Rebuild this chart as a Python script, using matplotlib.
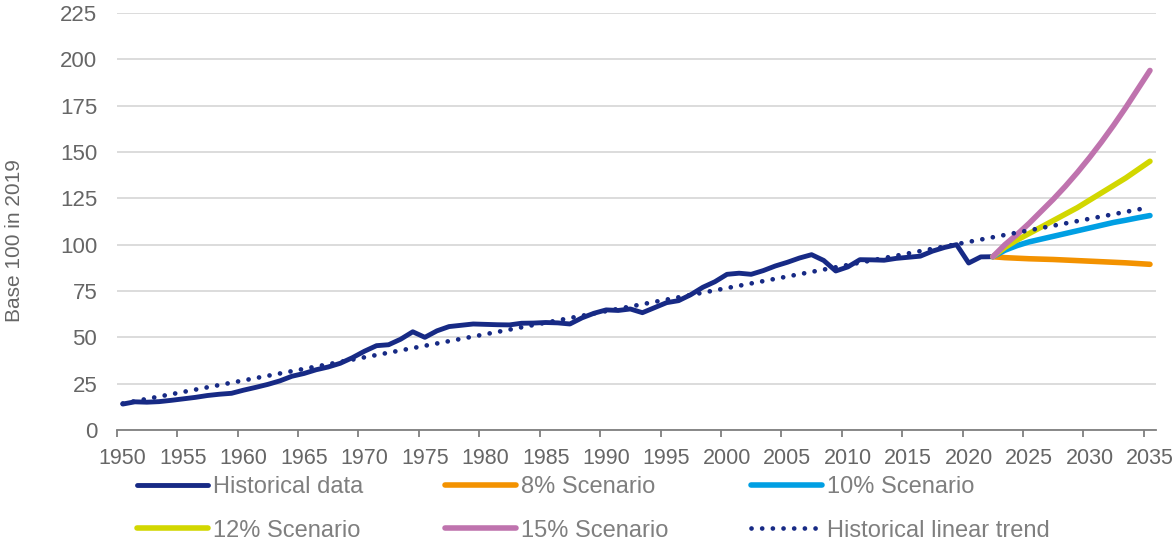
import numpy as np
import matplotlib
matplotlib.use("Agg")
import matplotlib.pyplot as plt
from matplotlib.ticker import FixedLocator, NullFormatter

plt.rcParams['font.family'] = ['Liberation Sans', 'DejaVu Sans']

# historical index, base 100 in 2019
hist_years = list(range(1950, 2023))
hist_values = [
    14.0, 15.2, 15.0, 15.3, 16.0, 16.8, 17.6, 18.6, 19.3, 19.8,   # 1950s
    21.5, 23.0, 24.6, 26.5, 29.0, 30.5, 32.5, 34.0, 36.0, 39.0,   # 1960s
    42.5, 45.5, 46.0, 49.0, 53.0, 50.0, 53.5, 55.8, 56.5, 57.2,   # 1970s
    57.0, 56.8, 56.7, 57.6, 57.7, 58.0, 57.8, 57.2, 60.5, 63.0,   # 1980s
    64.8, 64.5, 65.3, 63.3, 66.0, 68.7, 69.8, 73.0, 77.0, 80.0,   # 1990s
    84.0, 84.6, 84.0, 86.0, 88.5, 90.5, 92.8, 94.6, 91.5, 85.8,   # 2000s
    88.0, 91.9, 91.8, 91.6, 92.6, 93.2, 93.8, 96.5, 98.5, 100.0,  # 2010s
    90.1, 93.4, 93.5,                                              # 2020-2022
]

scen_years = list(range(2022, 2036))
scen_8 = [93.5, 93.0, 92.7, 92.4, 92.2, 92.0, 91.7, 91.4, 91.1, 90.8, 90.5, 90.2, 89.8, 89.4]
scen_10 = [93.5, 97.0, 99.5, 101.5, 103.0, 104.5, 106.0, 107.5, 109.0, 110.5, 112.0, 113.2, 114.5, 115.7]
scen_12 = [93.5, 98.5, 102.5, 106.0, 109.5, 113.0, 116.5, 120.0, 124.0, 128.0, 132.0, 136.0, 140.5, 145.0]
scen_15 = [93.5, 100.0, 105.5, 111.5, 118.0, 124.5, 131.5, 139.0, 147.0, 155.5, 164.5, 174.0, 184.0, 194.0]

# linear trend, end points
trend_years = [1950, 2035]
trend_values = [14.3, 120.2]

tick_years = list(range(1950, 2036, 5))
y_ticks = list(range(0, 226, 25))

c_hist = "#172a85"
c_8 = "#f39200"
c_10 = "#009fe3"
c_12 = "#d2d700"
c_15 = "#bf73ae"
grey_txt = "#666666"

fig = plt.figure(figsize=(11.76, 5.44), dpi=100)
ax = fig.add_axes([116.7 / 1176, 1 - 430 / 544, (1156 - 116.7) / 1176, (430 - 13) / 544])

l_hist, = ax.plot(hist_years, hist_values, color=c_hist, lw=3.5, label="Historical data",
                  solid_capstyle="round", solid_joinstyle="round", zorder=3)
l_8, = ax.plot(scen_years, scen_8, color=c_8, lw=4.0, label="8% Scenario", solid_capstyle="round", zorder=3)
l_10, = ax.plot(scen_years, scen_10, color=c_10, lw=4.0, label="10% Scenario", solid_capstyle="round", zorder=3)
l_12, = ax.plot(scen_years, scen_12, color=c_12, lw=4.0, label="12% Scenario", solid_capstyle="round", zorder=3)
l_15, = ax.plot(scen_years, scen_15, color=c_15, lw=4.0, label="15% Scenario", solid_capstyle="round", zorder=3)
l_tr, = ax.plot(trend_years, trend_values, color=c_hist, lw=3.4, linestyle=(0, (0.01, 2.25)),
                dash_capstyle="round", label="Historical linear trend", zorder=4)

ax.set_xlim(1949.5, 2035.5)
ax.set_ylim(0, 225)

ax.set_xticks(tick_years)
ax.set_xticklabels([str(y) for y in tick_years])
ax.xaxis.set_minor_locator(FixedLocator([y - 0.5 for y in tick_years]))
ax.xaxis.set_minor_formatter(NullFormatter())
ax.tick_params(axis="x", which="major", length=0, pad=13, labelsize=15.5, labelcolor=grey_txt)
ax.tick_params(axis="x", which="minor", length=5, width=1.3, color="#7f7f7f", direction="out")

ax.set_yticks(y_ticks)
ax.tick_params(axis="y", length=0, pad=14, labelsize=16, labelcolor=grey_txt)
ax.grid(axis="y", color="#d9d9d9", lw=1.3)
ax.set_axisbelow(True)

for s in ["top", "right", "left"]:
    ax.spines[s].set_visible(False)
ax.spines["bottom"].set_color("#7f7f7f")
ax.spines["bottom"].set_linewidth(1.3)

fig.text(15 / 1176, 1 - 241 / 544, "Base 100 in 2019", rotation=90, ha="center", va="center",
         fontsize=15, color=grey_txt)

# legend filled column by column, so order it to read row by row
order = [l_hist, l_12, l_8, l_15, l_10, l_tr]
leg = fig.legend(order, [h.get_label() for h in order], loc="upper left",
                 bbox_to_anchor=(137 / 1176, 1 - 476 / 544),
                 ncol=3, frameon=False, fontsize=17, handlelength=3.0, handletextpad=0.2,
                 columnspacing=3.5, labelspacing=0.92, borderpad=0, borderaxespad=0)
for t in leg.get_texts():
    t.set_color("#7f7f7f")

fig.savefig("out.png", dpi=100)
